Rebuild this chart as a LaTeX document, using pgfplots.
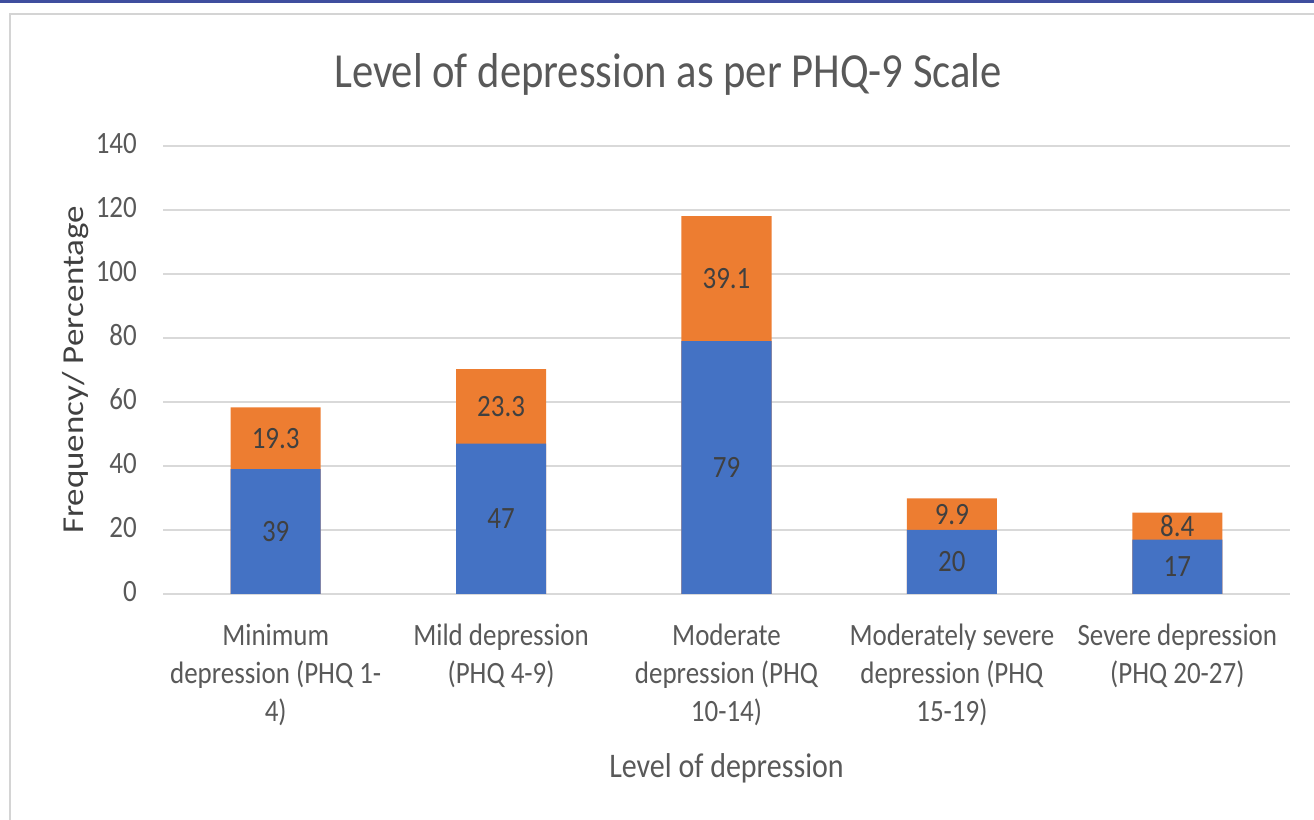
\documentclass[border=0pt]{standalone}
\usepackage{fontspec}
\usepackage{pgfplots}
\pgfplotsset{compat=1.18}
\setmainfont{Carlito}
\newfontfamily\hf[FakeStretch=0.87]{Carlito}
\newfontfamily\vf[FakeStretch=1.15]{Carlito}
\definecolor{xlblue}{HTML}{4472C4}
\definecolor{xlorange}{HTML}{ED7D31}
\definecolor{xlgrid}{HTML}{D9D9D9}
\definecolor{xltext}{HTML}{595959}
\definecolor{xldark}{HTML}{404040}
\definecolor{topblue}{HTML}{3F4E9E}
\definecolor{framegray}{HTML}{D4D4D4}
\begin{document}
\begin{tikzpicture}
\path[use as bounding box] (0,0) rectangle (1314bp,820bp);
\fill[topblue] (0,816.5bp) rectangle (1314bp,820bp);
\draw[framegray, line width=2.5bp] (10bp,-2bp) -- (10bp,806bp) -- (1316bp,806bp);
\begin{axis}[
  at={(163bp,226bp)}, anchor=south west,
  width=1127bp, height=448bp, scale only axis,
  xmin=-0.5, xmax=4.5, ymin=0, ymax=140,
  ytick={0,20,...,140},
  xtick={0,1,2,3,4},
  xticklabels={{Minimum\\depression (PHQ 1-\\4)},{Mild depression\\(PHQ 4-9)},{Moderate\\depression (PHQ\\10-14)},{Moderately severe\\depression (PHQ\\15-19)},{Severe depression\\(PHQ 20-27)}},
  typeset ticklabels with strut,
  xticklabel style={font=\hf\fontsize{31bp}{38bp}\selectfont, text=xltext, align=center, anchor=north, inner sep=0pt, yshift=-25bp},
  yticklabel style={font=\hf\fontsize{31bp}{38bp}\selectfont, text=xltext, anchor=east, inner sep=0pt, xshift=-26bp},
  /pgf/number format/assume math mode=true,
  axis line style={draw=none},
  major tick style={draw=none},
  ymajorgrids, grid style={xlgrid, line width=1.6bp},
  title={Level of depression as per PHQ-9 Scale},
  title style={at={(axis description cs:0.4481,1.1183)}, anchor=base, font=\hf\fontsize{49bp}{58bp}\selectfont, text=xltext},
  xlabel={Level of depression},
  xlabel style={at={(axis description cs:0.5,-0.4085)}, anchor=base, font=\hf\fontsize{34.5bp}{40bp}\selectfont, text=xltext},
  ylabel={Frequency/ Percentage},
  ylabel style={at={(axis description cs:-0.07098,0.5)}, anchor=base, rotate=0, font=\vf\fontsize{30.4bp}{36bp}\selectfont, text=xldark},
]
\addplot[ybar, bar width=90bp, bar shift=0pt, fill=xlorange, draw=none] coordinates {(0,58.3) (1,70.3) (2,118.1) (3,29.9) (4,25.4)};
\addplot[ybar, bar width=90bp, bar shift=0pt, fill=xlblue, draw=none] coordinates {(0,39) (1,47) (2,79) (3,20) (4,17)};
\addplot[draw=none, mark=none, nodes near coords, point meta=explicit symbolic,
  every node near coord/.append style={anchor=center, inner sep=0pt, font=\hf\fontsize{31bp}{38bp}\selectfont, text=xldark}]
  table[meta=lab] {
x y lab
0 19.5 39
1 23.5 47
2 39.5 79
3 10 20
4 8.5 17
0 48.65 19.3
1 58.65 23.3
2 98.55 39.1
3 24.95 9.9
4 21.2 8.4
};
\end{axis}
\end{tikzpicture}
\end{document}
